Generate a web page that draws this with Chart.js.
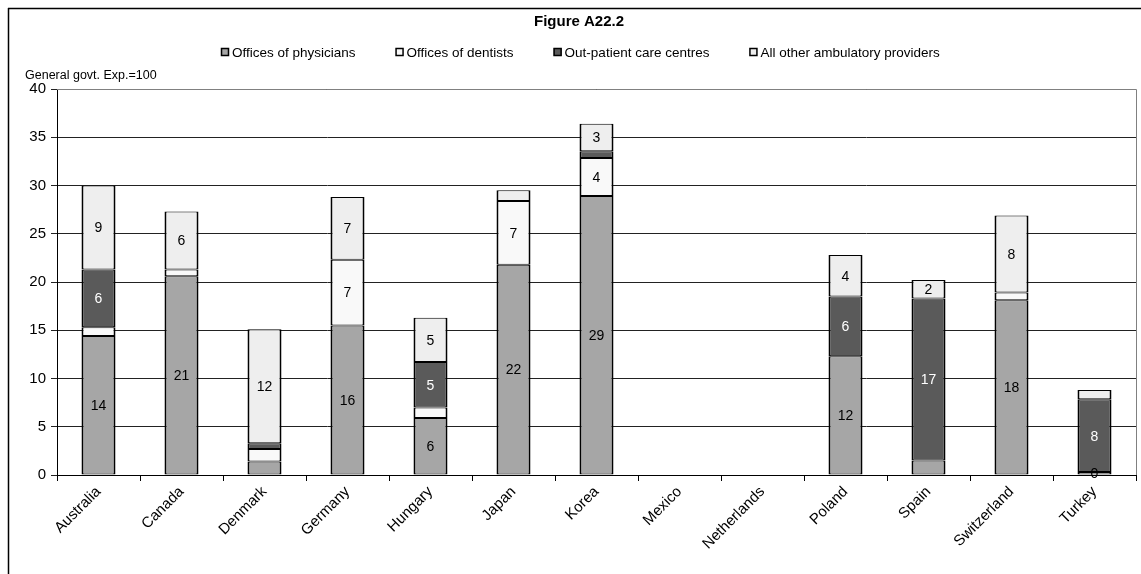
<!DOCTYPE html>
<html>
<head>
<meta charset="utf-8">
<title>Figure A22.2</title>
<script src="https://cdn.jsdelivr.net/npm/chart.js@4.4.1/dist/chart.umd.min.js"></script>
<style>
  html, body { margin: 0; padding: 0; background: #fff; }
  #wrap { width: 1141px; height: 574px; position: relative; }
</style>
</head>
<body>
<div id="wrap"><canvas id="chart"></canvas></div>
<script>
// Data (share of general govt. expenditure, =100)
const countries = ["Australia", "Canada", "Denmark", "Germany", "Hungary", "Japan", "Korea",
  "Mexico", "Netherlands", "Poland", "Spain", "Switzerland", "Turkey"]
const physicians = [14.4, 20.6, 1.4, 15.5, 5.9, 21.8, 28.9, null, null, 12.3, 1.5, 18.1, 0.3]
const dentists = [0.9, 0.7, 1.3, 6.8, 1.1, 6.6, 3.95, null, null, 0, 0, 0.8, 0]
const outpatient = [6.0, 0, 0.6, 0, 4.7, 0, 0.7, null, null, 6.2, 16.8, 0, 7.55]
const otherProviders = [8.7, 6.0, 11.8, 6.5, 4.6, 1.1, 2.85, null, null, 4.3, 1.9, 8.0, 0.95]
const seriesNames = ["Offices of physicians", "Offices of dentists", "Out-patient care centres", "All other ambulatory providers"]
const seriesColors = ["#a6a6a6", "#f9f9f9", "#5a5a5a", "#eeeeee"]
const yMin = 0
const yMax = 40
const yStep = 5

const FONT = "'Liberation Sans', Arial, sans-serif"
const PLOT_LEFT = 57
const PLOT_RIGHT = 1136
const PLOT_TOP = 89
const PLOT_BOTTOM = 475

// frame, plot border, title, legend, axis caption
const decorations = {
  id: "decorations",
  beforeDraw(chart) {
    const ctx = chart.ctx
    ctx.save()
    ctx.fillStyle = "#fff"
    ctx.fillRect(0, 0, chart.width, chart.height)
    ctx.restore()
  },
  afterDraw(chart) {
    const ctx = chart.ctx
    const area = chart.chartArea
    ctx.save()
    // outer frame
    ctx.strokeStyle = "#000"
    ctx.lineWidth = 1.5
    ctx.beginPath()
    ctx.moveTo(8, 8.5)
    ctx.lineTo(chart.width, 8.5)
    ctx.moveTo(8.5, 8)
    ctx.lineTo(8.5, chart.height)
    ctx.stroke()

    // plot area border (top + right)
    ctx.strokeStyle = "#808080"
    ctx.lineWidth = 1
    ctx.beginPath()
    ctx.moveTo(area.left, area.top + 0.5)
    ctx.lineTo(area.right + 0.5, area.top + 0.5)
    ctx.lineTo(area.right + 0.5, area.bottom)
    ctx.stroke()

    // title
    ctx.fillStyle = "#000"
    ctx.font = "bold 15px " + FONT
    ctx.textAlign = "center"
    ctx.textBaseline = "middle"
    ctx.fillText("Figure A22.2", 579, 22)

    // legend
    ctx.font = "13.5px " + FONT
    ctx.textAlign = "left"
    const box = 8
    const gap = 3
    const spacing = 40
    const widths = seriesNames.map((n) => box + gap + ctx.measureText(n).width)
    const total = widths.reduce((a, b) => a + b, 0) + spacing * (widths.length - 1)
    let x = Math.round(580 - total / 2)
    const ly = 52
    seriesNames.forEach((name, i) => {
      ctx.fillStyle = seriesColors[i]
      ctx.fillRect(x, ly - 4, box, box)
      ctx.strokeStyle = "#000"
      ctx.lineWidth = 1.5
      ctx.strokeRect(x + 0.5, ly - 3.5, box - 1, box - 1)
      ctx.fillStyle = "#000"
      ctx.fillText(name, x + box + gap, ly + 1)
      x += widths[i] + spacing
    })

    // y-axis caption
    ctx.font = "12.5px " + FONT
    ctx.fillText("General govt. Exp.=100", 25, 76)
    ctx.restore()
  },
}

// value labels in the middle of each segment
const segmentLabels = {
  id: "segmentLabels",
  afterDatasetsDraw(chart) {
    const ctx = chart.ctx
    ctx.save()
    ctx.font = "14px " + FONT
    ctx.textAlign = "center"
    ctx.textBaseline = "middle"
    chart.data.datasets.forEach((ds, i) => {
      const meta = chart.getDatasetMeta(i)
      meta.data.forEach((bar, j) => {
        const v = ds.data[j]
        if (v == null) return
        if (!(v >= 1.8 || (v > 0 && v < 0.5))) return
        ctx.fillStyle = i === 2 ? "#fff" : "#000"
        ctx.fillText(String(Math.round(v)), bar.x, (bar.y + bar.base) / 2 + 1)
      })
    })
    ctx.restore()
  },
}

const seriesData = [physicians, dentists, outpatient, otherProviders]

document.addEventListener("DOMContentLoaded", () => {
  const canvas = document.getElementById("chart")
  new Chart(canvas, {
    type: "bar",
    data: {
      labels: countries,
      datasets: seriesData.map((d, i) => ({
        label: seriesNames[i],
        data: d,
        backgroundColor: seriesColors[i],
        borderColor: "#000",
        borderWidth: { left: 2, right: 2, top: 1, bottom: 1 },
        borderSkipped: false,
        inflateAmount: 0,
        categoryPercentage: 1,
        barPercentage: 0.41,
      })),
    },
    options: {
      responsive: true,
      maintainAspectRatio: false,
      animation: false,
      layout: {
        padding: { left: 16, right: 1141 - PLOT_RIGHT, top: PLOT_TOP, bottom: 0 },
      },
      plugins: {
        legend: { display: false },
        title: { display: false },
        tooltip: { enabled: false },
      },
      scales: {
        x: {
          stacked: true,
          afterFit: (scale) => { scale.height = 574 - PLOT_BOTTOM },
          grid: {
            offset: true,
            drawOnChartArea: false,
            drawTicks: true,
            tickLength: 6,
            color: "#000",
          },
          border: { display: true, color: "#000", width: 1 },
          ticks: {
            autoSkip: false,
            maxRotation: 45,
            minRotation: 45,
            padding: 2,
            color: "#000",
            font: { family: FONT, size: 15 },
          },
        },
        y: {
          stacked: true,
          min: yMin,
          max: yMax,
          afterFit: (scale) => { scale.width = PLOT_LEFT - 16 },
          grid: {
            color: "#222",
            lineWidth: 1,
            tickLength: 6,
            drawTicks: true,
          },
          border: { display: true, color: "#000", width: 1 },
          ticks: {
            stepSize: yStep,
            padding: 5,
            color: "#000",
            font: { family: FONT, size: 15 },
          },
        },
      },
    },
    plugins: [decorations, segmentLabels],
  })
})
</script>
</body>
</html>
